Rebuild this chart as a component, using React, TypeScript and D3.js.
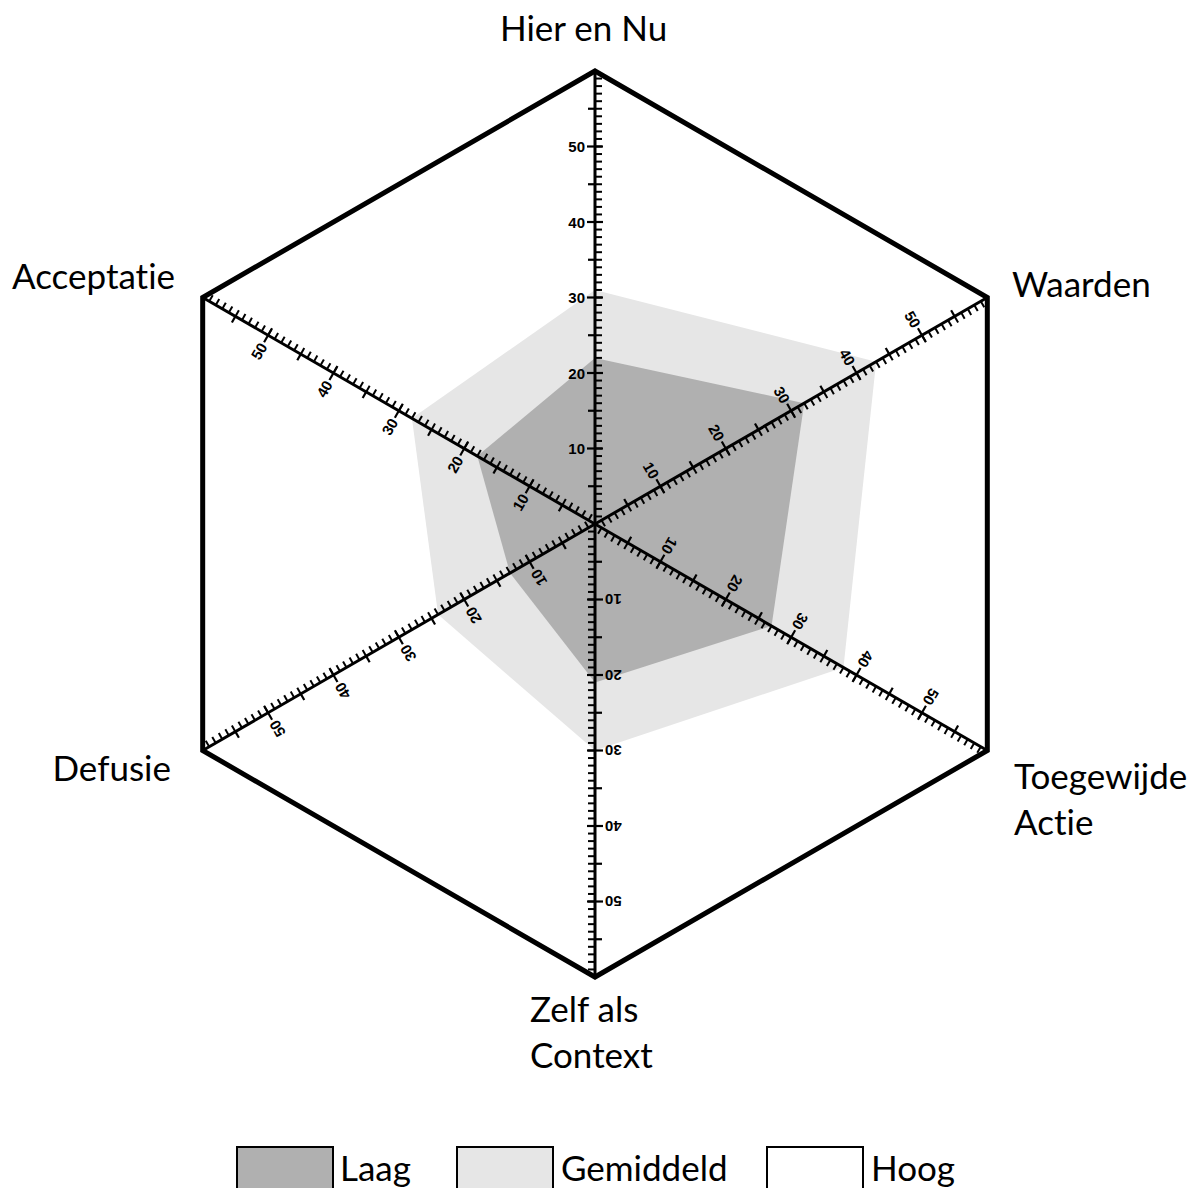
import React from 'react';
import * as d3 from 'd3';

const categories = ['Hier en Nu', 'Waarden', 'Toegewijde Actie', 'Zelf als Context', 'Defusie', 'Acceptatie'];
const laag = [22, 32, 27, 21, 13, 18];
const gemiddeld = [31, 43, 38, 30, 24, 28];
const hoog = [60, 60, 60, 60, 60, 60];
const tickLabels = [10, 20, 30, 40, 50];
const legendNames = ['Laag', 'Gemiddeld', 'Hoog'];

const width = 1204;
const height = 1188;
const cx = 595;
const cy = 524;
const R = 453;
const FONT = 'Lato, "Open Sans", sans-serif';

const r = d3.scaleLinear().domain([0, 60]).range([0, R]);
const angle = d3.scaleLinear().domain([0, categories.length]).range([0, 360]);

const radial = d3
  .lineRadial<number>()
  .angle((d, i) => (angle(i) * Math.PI) / 180)
  .radius((d) => r(d))
  .curve(d3.curveLinearClosed);

// label positions per category (outside the hexagon)
const catLabels = [
  { lines: ['Hier en Nu'], x: 500, y: 41, anchor: 'start' },
  { lines: ['Waarden'], x: 1012, y: 297, anchor: 'start' },
  { lines: ['Toegewijde', 'Actie'], x: 1014, y: 789, anchor: 'start' },
  { lines: ['Zelf als', 'Context'], x: 530, y: 1022, anchor: 'start' },
  { lines: ['Defusie'], x: 171, y: 781, anchor: 'end' },
  { lines: ['Acceptatie'], x: 12, y: 289, anchor: 'start' },
];

const Axis: React.FC<{ deg: number }> = ({ deg }) => {
  const units = d3.range(1, 60);
  return (
    <g transform={`translate(${cx},${cy}) rotate(${deg})`}>
      <line x1={0} y1={0} x2={0} y2={-r(60)} stroke="#000" strokeWidth={3} />
      {units.map((u) => (
        <line key={'m' + u} x1={0} x2={7} y1={-r(u)} y2={-r(u)} stroke="#000" strokeWidth={2} />
      ))}
      {units
        .filter((u) => u % 5 === 0)
        .map((u) => (
          <line
            key={'f' + u}
            x1={u % 10 === 0 ? -8 : -7}
            x2={u % 10 === 0 ? 8 : 0}
            y1={-r(u)}
            y2={-r(u)}
            stroke="#000"
            strokeWidth={2.2}
          />
        ))}
      {tickLabels.map((t) => (
        <text
          key={'t' + t}
          x={-10}
          y={-r(t)}
          textAnchor="end"
          dominantBaseline="central"
          fontFamily='"Liberation Sans", Arial, sans-serif'
          fontWeight="bold"
          fontSize={15}
        >
          {t}
        </text>
      ))}
    </g>
  );
};

const App: React.FC = () => {
  const legendBoxes = [
    { x: 237, fill: '#b0b0b0', tx: 340 },
    { x: 457, fill: '#e6e6e6', tx: 561 },
    { x: 767, fill: '#ffffff', tx: 871 },
  ];
  return (
    <svg
      width={width}
      height={height}
      style={{ position: 'absolute', left: 0, top: 0, background: '#fff', fontVariantLigatures: 'none' }}
    >
      <g transform={`translate(${cx},${cy})`}>
        <path d={radial(hoog) || ''} fill="#fff" />
        <path d={radial(gemiddeld) || ''} fill="#e6e6e6" />
        <path d={radial(laag) || ''} fill="#b0b0b0" />
        <path d={radial(hoog) || ''} fill="none" stroke="#000" strokeWidth={5} strokeLinejoin="miter" />
      </g>
      {categories.map((c, i) => (
        <Axis key={c} deg={angle(i)} />
      ))}
      {catLabels.map((l, i) => (
        <text
          key={categories[i]}
          x={l.x}
          y={l.y}
          textAnchor={l.anchor}
          fontFamily={FONT}
          fontSize={35}
          fill="#000"
        >
          {l.lines.map((ln, j) => (
            <tspan key={j} x={l.x} dy={j === 0 ? 0 : 46}>
              {ln}
            </tspan>
          ))}
        </text>
      ))}
      {legendNames.map((n, i) => (
        <g key={n}>
          <rect
            x={legendBoxes[i].x}
            y={1147}
            width={96}
            height={50}
            fill={legendBoxes[i].fill}
            stroke="#000"
            strokeWidth={2}
          />
          <text x={legendBoxes[i].tx} y={1181} fontFamily={FONT} fontSize={35} fill="#000">
            {n}
          </text>
        </g>
      ))}
    </svg>
  );
};

export default App;
